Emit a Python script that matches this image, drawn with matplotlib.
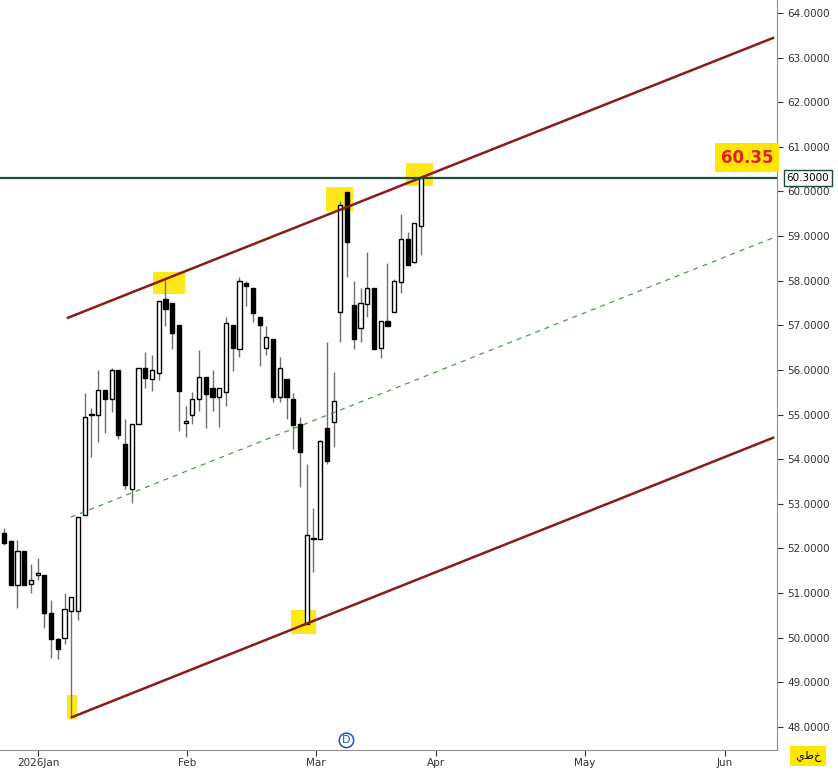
import matplotlib
matplotlib.use("Agg")
import matplotlib.pyplot as plt
from matplotlib.patches import Rectangle
import numpy as np

# daily OHLC, one row per session (Dec 2025 .. Mar 2026)
opens = [52.35, 52.17, 51.18, 51.94, 51.20, 51.41, 51.41, 50.55, 49.97, 49.99,
         50.60, 50.60, 52.75, 54.99, 54.99, 55.55, 55.35, 56.00, 54.34, 53.33,
         54.79, 56.04, 55.80, 55.93, 57.59, 57.50, 57.01, 54.81, 54.99, 55.35,
         55.84, 55.60, 55.39, 55.51, 57.01, 56.47, 57.95, 57.84, 57.19, 56.49,
         56.69, 55.39, 55.80, 55.35, 54.79, 50.31, 52.21, 52.21, 54.70, 54.83,
         57.30, 59.99, 57.46, 56.94, 57.48, 57.84, 56.49, 57.10, 57.30, 57.97,
         58.94, 58.42, 59.23]
highs = [52.46, 52.19, 52.19, 51.94, 51.65, 51.79, 51.41, 50.85, 49.99, 51.00,
         50.91, 52.71, 55.48, 55.15, 56.00, 55.55, 56.04, 56.00, 54.90, 54.79,
         56.04, 56.40, 56.34, 57.55, 58.02, 57.50, 57.01, 55.19, 55.51, 56.45,
         55.84, 56.00, 55.60, 57.19, 57.01, 58.08, 57.99, 57.84, 57.19, 56.99,
         56.69, 56.29, 55.80, 55.48, 54.95, 53.89, 52.91, 54.43, 56.63, 55.95,
         59.79, 59.99, 57.99, 57.84, 58.64, 57.84, 56.99, 58.40, 58.04, 59.50,
         59.09, 59.29, 60.33]
lows = [52.08, 51.18, 50.67, 51.18, 51.00, 51.29, 50.22, 49.55, 49.52, 49.86,
        48.20, 50.40, 52.75, 54.05, 54.39, 54.59, 55.06, 54.45, 53.33, 53.02,
        54.79, 55.60, 55.53, 55.78, 56.99, 56.47, 54.63, 54.50, 54.79, 55.08,
        54.70, 55.08, 54.72, 55.19, 55.98, 56.29, 57.43, 57.08, 56.09, 56.34,
        55.28, 55.28, 54.90, 54.23, 53.38, 50.31, 51.47, 52.21, 53.90, 54.27,
        56.63, 58.08, 56.47, 56.63, 57.19, 56.47, 56.27, 56.99, 57.30, 57.73,
        58.35, 58.40, 58.58]
closes = [52.12, 51.18, 51.94, 51.18, 51.29, 51.42, 50.55, 49.97, 49.75, 50.64,
          50.91, 52.71, 54.95, 55.00, 55.55, 55.35, 56.00, 54.54, 53.42, 54.79,
          56.04, 55.82, 56.00, 57.55, 57.37, 56.83, 55.53, 54.86, 55.35, 55.84,
          55.46, 55.39, 55.60, 57.05, 56.49, 57.99, 57.88, 57.28, 57.01, 56.74,
          55.39, 56.04, 55.39, 54.77, 54.16, 52.30, 52.22, 54.41, 53.96, 55.31,
          59.70, 58.87, 56.69, 57.50, 57.84, 56.47, 57.10, 56.99, 57.99, 58.94,
          58.35, 59.29, 60.30]

month_labels = ["2026Jan", "Feb", "Mar", "Apr", "May", "Jun"]
month_pos = [5.05, 27.2, 46.4, 64.2, 86.3, 107.1]

# trend channel (start idx, start price, end idx, end price)
upper_line = (9.5, 57.17, 114.3, 63.44)
mid_line = (9.9, 52.70, 114.3, 58.96)
lower_line = (10.1, 48.22, 114.3, 54.48)
level = 60.30

fig = plt.figure(figsize=(8.38, 7.72), dpi=100)
ax = fig.add_axes([0, 22 / 772, 777 / 838, 750 / 772])
ax.set_xlim(-0.6, 114.9)
ax.set_ylim(47.484, 64.291)

w = 0.62
for i, (o, h, l, c) in enumerate(zip(opens, highs, lows, closes)):
    top, bot = max(o, c), min(o, c)
    ax.vlines(i, l, bot, color="#707070", lw=1, zorder=2)
    ax.vlines(i, top, h, color="#707070", lw=1, zorder=2)
    up = c >= o
    hgt = max(top - bot, 0.03)
    ax.add_patch(Rectangle((i - w / 2, bot), w, hgt,
                           facecolor="white" if up else "black",
                           edgecolor="black", lw=1, zorder=3))

for (x0, y0, x1, y1), col, ls, lw in [(upper_line, "#8b1a1a", "-", 1.8),
                                      (lower_line, "#8b1a1a", "-", 1.8),
                                      (mid_line, "#4c9a4c", (0, (4, 4)), 0.9)]:
    ax.plot([x0, x1], [y0, y1], color=col, ls=ls, lw=lw, zorder=4)

ax.axhline(level, color="#1f4a3c", lw=1.6, zorder=4)

# yellow highlight marks
for cx, cy, ww, hh in [(10.1, 48.45, 1.6, 0.55), (24.5, 57.95, 4.8, 0.5),
                       (49.8, 59.83, 4.0, 0.55), (61.8, 60.38, 4.0, 0.5),
                       (44.5, 50.35, 3.6, 0.55)]:
    ax.add_patch(Rectangle((cx - ww / 2, cy - hh / 2), ww, hh,
                           facecolor="#ffe600", edgecolor="none", alpha=0.9,
                           zorder=1))

ax.text(110.5, 60.76, "60.35", color="#e02020", fontsize=12, fontweight="bold",
        ha="center", va="center", zorder=6,
        bbox=dict(boxstyle="square,pad=0.35", fc="#ffe600", ec="none"))

ax.text(50.9, 47.70, "D", color="#2050d0", fontsize=8, ha="center", va="center",
        zorder=6, bbox=dict(boxstyle="circle,pad=0.2", fc="white", ec="#2050d0", lw=1.1))

for s in ["top", "left"]:
    ax.spines[s].set_visible(False)
ax.spines["right"].set_color("#909090")
ax.spines["bottom"].set_color("#909090")
ax.yaxis.tick_right()
ax.set_yticks(np.arange(48, 65, 1.0))
ax.set_yticklabels([f"{v:.4f}" for v in np.arange(48, 65, 1.0)])
ax.tick_params(axis="y", labelsize=7.5, colors="#333333", length=4)
ax.set_xticks(month_pos)
ax.set_xticklabels(month_labels)
ax.tick_params(axis="x", labelsize=7.5, colors="#333333", length=4, pad=2)

ax.text(1.012, (level - 47.484) / (64.291 - 47.484), "60.3000",
        transform=ax.transAxes, fontsize=7.5, va="center", ha="left",
        bbox=dict(boxstyle="square,pad=0.25", fc="white", ec="#1f4a3c"))
fig.text(808 / 838, 16 / 772, "يطخ", fontsize=8, ha="center", va="center",
         bbox=dict(boxstyle="square,pad=0.4", fc="#ffe600", ec="none"))

fig.savefig("out.png", dpi=100, facecolor="white")
